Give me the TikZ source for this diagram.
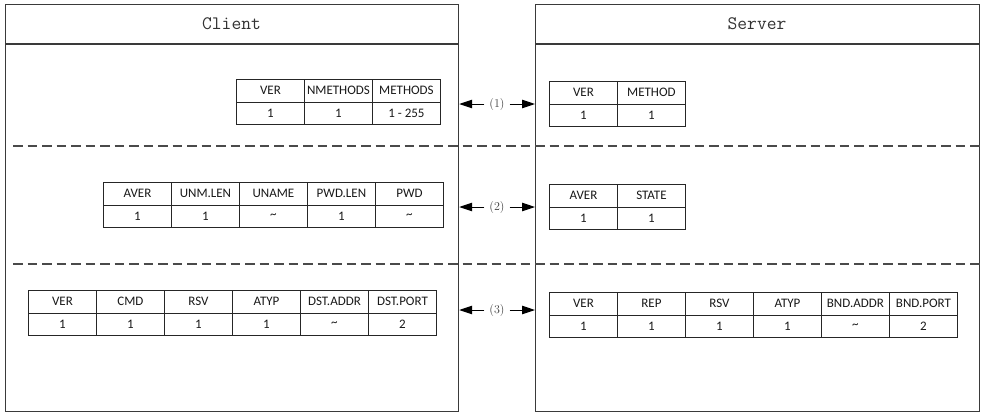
\documentclass[tikz,border=0pt]{standalone}
\usepackage{fontspec}
\newfontfamily\carl{Carlito}
\usetikzlibrary{arrows.meta}
\definecolor{boxline}{HTML}{3A3A3A}
\definecolor{dashgray}{HTML}{4A4A4A}
\tikzset{
  panel/.style={draw=boxline, line width=1.2pt, minimum width=453pt, minimum height=407pt, anchor=north west, inner sep=0pt},
  paneltitle/.style={font=\fontsize{19}{19}\selectfont\ttfamily, text=black!80},
  cell/.style={draw=black!85, line width=0.9pt, minimum width=68pt, minimum height=22.5pt, inner sep=0pt, anchor=north west, font=\fontsize{13}{13}\selectfont\carl, text=black!90},
  dashline/.style={draw=dashgray, line width=1.1pt, dash pattern=on 9.5pt off 5pt},
  steplabel/.style={font=\fontsize{12}{12}\selectfont, inner xsep=5pt, text=black!75},
  msgarrow/.style={-{Triangle[length=13pt,width=8.5pt]}, line width=1pt, draw=black}
}
\newcommand\pkt[4]{%
  \foreach \h/\v [count=\i from 0] in {#4} {
    \node[cell] (#1h\i) at ({#2+68*\i},{#3}) {\h};
    \node[cell] (#1v\i) at ({#2+68*\i},{#3+22.5}) {\v};
  }%
}
\begin{document}
\begin{tikzpicture}[x=1pt,y=-1pt]
\useasboundingbox[fill=white] (0,0) rectangle (984,416);
% panels
\node[panel] (client) at (5,4) {};
\node[panel, minimum width=444pt] (server) at (535,4) {};
\draw[boxline, line width=1.2pt] (client.north west |- 0,44) -- (client.north east |- 0,44);
\draw[boxline, line width=1.2pt] (server.north west |- 0,44) -- (server.north east |- 0,44);
\node[paneltitle] (ctitle) at (231.5,24) {Client};
\node[paneltitle] (stitle) at (757,24) {Server};
% dashed separators
\draw[dashline] (13,146) -- (982,146);
\draw[dashline] (13,264) -- (982,264);
% tables
\pkt{ca}{236}{79}{VER/1, NMETHODS/1, METHODS/1 - 255}
\pkt{sa}{549}{81}{VER/1, METHOD/1}
\pkt{cb}{103}{182}{AVER/1, UNM.LEN/1, UNAME/\textasciitilde, PWD.LEN/1, PWD/\textasciitilde}
\pkt{sb}{549}{184}{AVER/1, STATE/1}
\pkt{cc}{28}{290}{VER/1, CMD/1, RSV/1, ATYP/1, DST.ADDR/\textasciitilde, DST.PORT/2}
\pkt{sc}{549}{292}{VER/1, REP/1, RSV/1, ATYP/1, BND.ADDR/\textasciitilde, BND.PORT/2}
% step arrows
\node[steplabel] (l1) at (497,104) {(1)};
\node[steplabel] (l2) at (497,207) {(2)};
\node[steplabel] (l3) at (497,310) {(3)};
\foreach \l in {l1,l2,l3} {
  \draw[msgarrow] (\l.west) -- (\l.west -| client.east);
  \draw[msgarrow] (\l.east) -- (\l.east -| server.west);
}
\end{tikzpicture}
\end{document}
